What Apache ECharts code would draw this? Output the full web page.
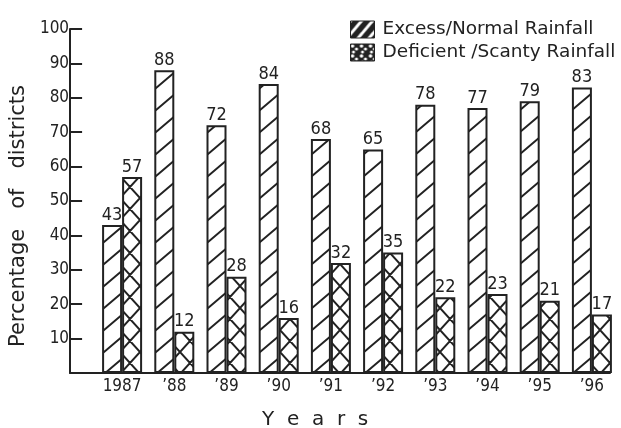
<!DOCTYPE html>
<html>
<head>
<meta charset="utf-8">
<script src="https://cdn.jsdelivr.net/npm/echarts@6/dist/echarts.min.js"></script>
<style>html,body{margin:0;padding:0;background:#fff;}#c{width:621px;height:428px;}</style>
</head>
<body>
<div id="c"></div>
<script>
const years = ['1987', '\u201988', '\u201989', '\u201990', '\u201991', '\u201992', '\u201993', '\u201994', '\u201995', '\u201996'];
const excessNormal = [43, 88, 72, 84, 68, 65, 78, 77, 79, 83];
const deficientScanty = [57, 12, 28, 16, 32, 35, 22, 23, 21, 17];
const yTicks = [0, 10, 20, 30, 40, 50, 60, 70, 80, 90, 100];
const seriesNames = ['Excess/Normal Rainfall', 'Deficient /Scanty Rainfall'];

const INK = '#222222';
const FONT = 'DejaVu Sans';
const FONTC = '"DejaVu Sans Condensed", "DejaVu Sans"';

function hatch(w, h, cross, bg, fg, lw) {
  const c = document.createElement('canvas');
  c.width = w; c.height = h;
  const g = c.getContext('2d');
  g.fillStyle = bg; g.fillRect(0, 0, w, h);
  g.strokeStyle = fg; g.lineWidth = lw; g.lineCap = 'square';
  g.beginPath();
  for (const dx of [-w, 0, w]) {
    for (const dy of [-h, 0, h]) {
      g.moveTo(dx, dy + h); g.lineTo(dx + w, dy);
      if (cross) { g.moveTo(dx, dy); g.lineTo(dx + w, dy + h); }
    }
  }
  g.stroke();
  return c;
}
function dots(w, h, bg, fg) {
  const c = document.createElement('canvas');
  c.width = w; c.height = h;
  const g = c.getContext('2d');
  g.fillStyle = bg; g.fillRect(0, 0, w, h);
  g.fillStyle = fg;
  [[2, 2, 1.8], [6, 5, 1.6], [3, 8, 1.5]].forEach(([x, y, r]) => {
    g.beginPath(); g.arc(x, y, r, 0, Math.PI * 2); g.fill();
  });
  return c;
}
const patExcess = hatch(26, 22, false, '#ffffff', INK, 2);
const patDef = hatch(20, 22, true, '#ffffff', INK, 2);
const legExcess = hatch(11, 13, false, INK, '#ffffff', 3);
const legDef = dots(9, 10, INK, '#ffffff');

const chart = echarts.init(document.getElementById('c'), null, {renderer: 'canvas'});
chart.setOption({
  animation: false,
  backgroundColor: '#ffffff',
  textStyle: {fontFamily: FONT, color: INK},
  title: {
    text: 'Y  e  a  r  s',
    left: 257, top: 405,
    textStyle: {fontFamily: FONT, fontSize: 20, fontWeight: 'normal', color: INK}
  },
  legend: {
    orient: 'vertical',
    left: 345, top: 15,
    itemWidth: 24, itemHeight: 17, itemGap: 4,
    textStyle: {fontFamily: FONT, fontSize: 18.5, lineHeight: 18, color: INK, padding: [0, 0, 0, 3]},
    data: [
      {name: seriesNames[0], icon: 'rect', itemStyle: {color: {image: legExcess, repeat: 'repeat'}, borderColor: INK, borderWidth: 1}},
      {name: seriesNames[1], icon: 'rect', itemStyle: {color: {image: legDef, repeat: 'repeat'}, borderColor: INK, borderWidth: 1}}
    ]
  },
  grid: [
    {left: 68, right: 11, top: 29, bottom: 55},
    {left: 96, right: 3, top: 29, bottom: 55}
  ],
  xAxis: [
    {gridIndex: 0, type: 'value', min: 0, max: 1,
     axisLine: {show: true, lineStyle: {color: INK, width: 2}},
     axisTick: {show: false}, axisLabel: {show: false}, splitLine: {show: false}},
    {gridIndex: 1, type: 'category', data: years,
     axisLine: {show: false}, axisTick: {show: false}, splitLine: {show: false},
     axisLabel: {fontFamily: FONTC, fontSize: 17, color: INK, margin: 5}}
  ],
  yAxis: [
    {gridIndex: 0, type: 'value', min: 0, max: 100, interval: 10,
     name: 'Percentage   of   districts', nameLocation: 'middle', nameGap: 31, nameRotate: 90,
     nameTextStyle: {fontFamily: FONT, fontSize: 21, color: INK, padding: [0, 30, 0, 0]},
     axisLine: {show: true, lineStyle: {color: INK, width: 2}},
     axisTick: {show: true, inside: true, length: 12, lineStyle: {color: INK, width: 2}},
     axisLabel: {fontFamily: FONTC, fontSize: 17, color: INK, margin: 1, padding: [0, 0, 10, 0],
       formatter: v => (v === 0 ? '' : String(v))},
     splitLine: {show: false}},
    {gridIndex: 1, type: 'value', min: yTicks[0], max: yTicks[yTicks.length - 1], show: false}
  ],
  series: [
    {name: seriesNames[0], type: 'bar', xAxisIndex: 1, yAxisIndex: 1, data: excessNormal,
     barWidth: 20, barGap: '0%',
     itemStyle: {color: {image: patExcess, repeat: 'repeat'}, borderColor: INK, borderWidth: 2},
     label: {show: true, position: 'top', distance: 1, fontFamily: FONTC, fontSize: 18, color: INK}},
    {name: seriesNames[1], type: 'bar', xAxisIndex: 1, yAxisIndex: 1, data: deficientScanty,
     barWidth: 20, barGap: '0%',
     itemStyle: {color: {image: patDef, repeat: 'repeat'}, borderColor: INK, borderWidth: 2},
     label: {show: true, position: 'top', distance: 1, fontFamily: FONTC, fontSize: 18, color: INK}}
  ]
});
</script>
</body>
</html>
